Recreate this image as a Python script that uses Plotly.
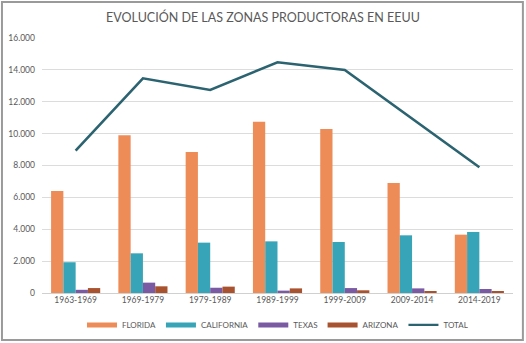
import plotly.graph_objects as go

periods = ["1963-1969", "1969-1979", "1979-1989", "1989-1999",
           "1999-2009", "2009-2014", "2014-2019"]
florida = [6400, 9900, 8850, 10750, 10290, 6900, 3660]
california = [1930, 2490, 3160, 3240, 3200, 3620, 3830]
texas = [200, 650, 330, 150, 310, 290, 250]
arizona = [310, 420, 400, 290, 170, 100, 80]
total = [8930, 13470, 12740, 14480, 13990, 10950, 7890]

series = [
    ("FLORIDA", florida, "#EE8C58"),
    ("CALIFORNIA", california, "#37A5B7"),
    ("TEXAS", texas, "#7A5BA3"),
    ("ARIZONA", arizona, "#A9522F"),
]
total_color = "#2B6371"
text_color = "#595959"
font_family = "Lato, 'Open Sans', sans-serif"

fig = go.Figure()
for name, vals, color in series:
    fig.add_trace(go.Bar(x=periods, y=vals, name=name, marker_color=color,
                         marker_line_width=0, showlegend=False))

fig.add_trace(go.Scatter(x=periods, y=total, name="TOTAL", mode="lines",
                         line=dict(color=total_color, width=2.6),
                         showlegend=False))

# legend keys drawn as wide strokes
for name, _, color in series:
    fig.add_trace(go.Scatter(x=[None], y=[None], mode="lines", name=name,
                             line=dict(color=color, width=5)))
fig.add_trace(go.Scatter(x=[None], y=[None], mode="lines", name="TOTAL",
                         line=dict(color=total_color, width=2.2)))

fig.update_layout(
    width=526, height=343,
    margin=dict(l=42, r=13, t=38, b=50, autoexpand=False),
    paper_bgcolor="white", plot_bgcolor="white",
    barmode="group", bargap=0.27, bargroupgap=0,
    separators=",.",
    font=dict(family=font_family, color=text_color, size=9),
    title=dict(text="EVOLUCIÓN DE LAS ZONAS PRODUCTORAS EN EEUU",
               x=0.5, xanchor="center", y=0.948, yanchor="middle",
               font=dict(size=12.5, color=text_color, family=font_family)),
    legend=dict(orientation="h", x=0.5, xanchor="center", y=-0.125,
                yanchor="middle", font=dict(size=8, color=text_color),
                itemwidth=30, tracegroupgap=0),
    yaxis=dict(range=[0, 16000], dtick=2000, tickformat=",d",
               separatethousands=True,
               gridcolor="#DCDCDC", gridwidth=1, zeroline=True,
               zerolinecolor="#D0D0D0", zerolinewidth=1,
               showline=False, ticks="", ticklabelstandoff=6,
               tickfont=dict(size=8.5, color=text_color)),
    xaxis=dict(showgrid=False, showline=False, ticks="",
               tickfont=dict(size=8.5, color=text_color)),
    shapes=[dict(type="rect", xref="paper", yref="paper",
                 x0=-0.085, x1=1.021, y0=-0.184, y1=1.141,
                 line=dict(color="#9A9A9A", width=2), layer="below")],
)

fig.write_html("out.html")
